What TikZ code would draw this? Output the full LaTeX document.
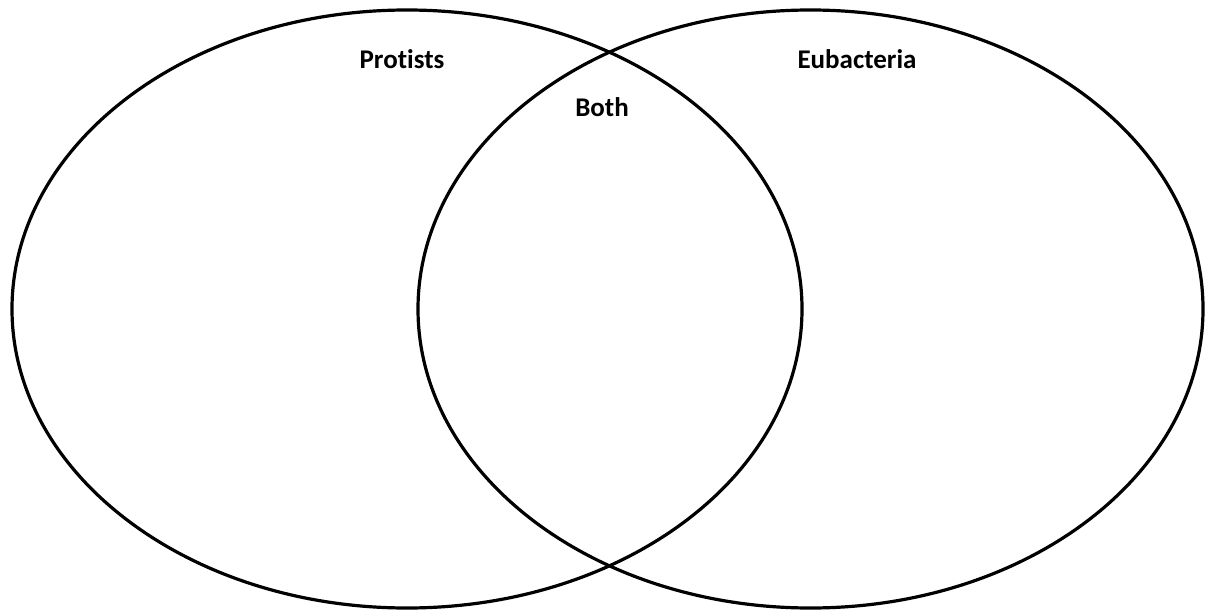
\documentclass[tikz,border=0pt]{standalone}
\usepackage{fontspec}
\setmainfont{Carlito}[Ligatures=CommonOff]
\usetikzlibrary{shapes.geometric}
\begin{document}
\begin{tikzpicture}[x=1pt,y=-1pt,
  circ/.style={draw=black,line width=3.2pt},
  lbl/.style={font=\fontsize{27}{32}\selectfont\bfseries,anchor=base,inner sep=0pt}]
\useasboundingbox (0,0) rectangle (1209,615);
\node[circ,ellipse,minimum width=790pt,minimum height=598pt,inner sep=0pt] (left) at (407,309) {};
\node[circ,ellipse,minimum width=785pt,minimum height=598pt,inner sep=0pt] (right) at (810.5,309) {};
\node[lbl] (protists) at (402,69) {Protists};
\node[lbl] (eubacteria) at (857,69) {Eubacteria};
\node[lbl] (both) at (602,117) {Both};
\end{tikzpicture}
\end{document}
